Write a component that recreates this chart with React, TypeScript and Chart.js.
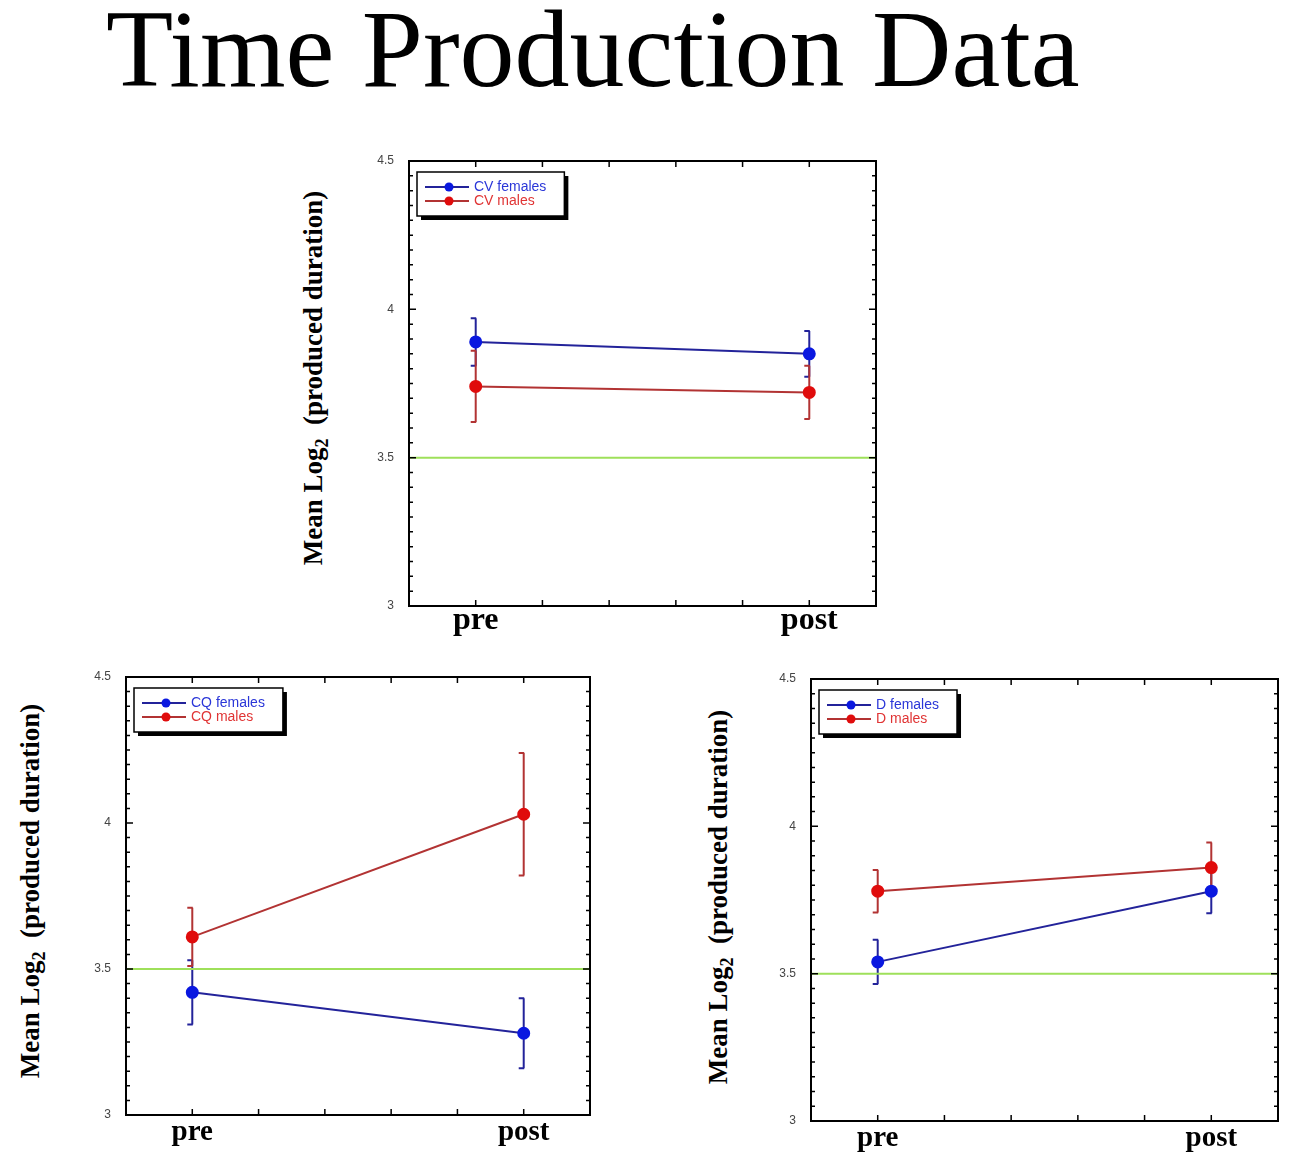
import React, { useEffect, useRef } from "react";
import { Chart, registerables } from "chart.js";

Chart.register(...registerables);

// ---------------- data ----------------
const xCategories = ["pre", "post"];

const cvLabels = ["CV females", "CV males"];
const cvFemales = [3.89, 3.85];
const cvFemalesErr = [0.08, 0.077];
const cvMales = [3.74, 3.72];
const cvMalesErr = [0.12, 0.09];

const cqLabels = ["CQ females", "CQ males"];
const cqFemales = [3.42, 3.28];
const cqFemalesErr = [0.11, 0.12];
const cqMales = [3.61, 4.03];
const cqMalesErr = [0.1, 0.21];

const dLabels = ["D females", "D males"];
const dFemales = [3.54, 3.78];
const dFemalesErr = [0.075, 0.075];
const dMales = [3.78, 3.86];
const dMalesErr = [0.072, 0.085];

const referenceLevel = 3.5;
const yMin = 3;
const yMax = 4.5;
const yStep = 0.5;
const yMinorStep = 0.05;
const xMin = -0.2;
const xMax = 1.2;
const xMinorStep = 0.2;

const titleText = "Time Production Data";

// ---------------- styles ----------------
const LINE_BLUE = "#23239a";
const DOT_BLUE = "#0a18e0";
const TEXT_BLUE = "#2a36d8";
const LINE_RED = "#b23333";
const DOT_RED = "#e00c0c";
const TEXT_RED = "#e03434";
const GREEN = "#9ee05a";

const PAD_TOP = 12;
const PAD_RIGHT = 12;
const Y_AXIS_W = 60;
const X_AXIS_H = 45;

const errorBarPlugin = {
  id: "errorBars",
  beforeDatasetsDraw(chart: any) {
    const { ctx } = chart;
    const xs = chart.scales.x;
    const ys = chart.scales.y;
    chart.data.datasets.forEach((ds: any) => {
      if (!ds.errors) return;
      ctx.save();
      ctx.strokeStyle = ds.borderColor;
      ctx.lineWidth = 2;
      ds.data.forEach((p: any, j: number) => {
        const e = ds.errors[j];
        const px = xs.getPixelForValue(p.x);
        const top = ys.getPixelForValue(p.y + e);
        const bot = ys.getPixelForValue(p.y - e);
        ctx.beginPath();
        ctx.moveTo(px, top);
        ctx.lineTo(px, bot);
        ctx.moveTo(px - 5, top);
        ctx.lineTo(px + 0.5, top);
        ctx.moveTo(px - 5, bot);
        ctx.lineTo(px + 0.5, bot);
        ctx.stroke();
      });
      ctx.restore();
    });
  },
};

const framePlugin = {
  id: "frame",
  afterDraw(chart: any) {
    const { ctx, chartArea: a } = chart;
    const xs = chart.scales.x;
    const ys = chart.scales.y;
    ctx.save();
    ctx.strokeStyle = "#000";
    ctx.lineWidth = 1.5;
    ctx.beginPath();
    const nY = Math.round((yMax - yMin) / yMinorStep);
    const perMajor = Math.round(yStep / yMinorStep);
    for (let k = 1; k < nY; k++) {
      const py = ys.getPixelForValue(yMin + k * yMinorStep);
      const len = k % perMajor === 0 ? 7 : 4;
      ctx.moveTo(a.left, py);
      ctx.lineTo(a.left + len, py);
      ctx.moveTo(a.right, py);
      ctx.lineTo(a.right - len, py);
    }
    const nX = Math.round((xMax - xMin) / xMinorStep);
    for (let k = 1; k < nX; k++) {
      const px = xs.getPixelForValue(xMin + k * xMinorStep);
      ctx.moveTo(px, a.bottom);
      ctx.lineTo(px, a.bottom - 6);
      ctx.moveTo(px, a.top);
      ctx.lineTo(px, a.top + 6);
    }
    ctx.stroke();
    ctx.lineWidth = 2;
    ctx.strokeRect(a.left, a.top, a.right - a.left, a.bottom - a.top);

    // legend
    const items = chart.data.datasets.filter((d: any) => d.inLegend);
    const bx = a.left + 8;
    const by = a.top + 11;
    ctx.font = '14px "Liberation Sans", Arial, sans-serif';
    let maxW = 0;
    items.forEach((d: any) => {
      maxW = Math.max(maxW, ctx.measureText(d.label).width);
    });
    const textX = 57;
    const bw = textX + maxW + 18;
    const bh = 44;
    ctx.fillStyle = "#000";
    ctx.fillRect(bx + 4, by + 4, bw, bh);
    ctx.fillStyle = "#fff";
    ctx.fillRect(bx, by, bw, bh);
    ctx.lineWidth = 1.5;
    ctx.strokeStyle = "#000";
    ctx.strokeRect(bx, by, bw, bh);
    items.forEach((d: any, i: number) => {
      const ry = by + 15 + i * 14;
      ctx.strokeStyle = d.borderColor;
      ctx.lineWidth = 2;
      ctx.beginPath();
      ctx.moveTo(bx + 8, ry);
      ctx.lineTo(bx + 52, ry);
      ctx.stroke();
      ctx.fillStyle = d.pointBackgroundColor;
      ctx.beginPath();
      ctx.arc(bx + 32, ry, 4.5, 0, Math.PI * 2);
      ctx.fill();
      ctx.fillStyle = d.legendColor;
      ctx.textBaseline = "middle";
      ctx.textAlign = "left";
      ctx.fillText(d.label, bx + textX, ry);
    });
    ctx.restore();
  },
};

type Spec = {
  labels: string[];
  females: number[];
  femalesErr: number[];
  males: number[];
  malesErr: number[];
  xFont: number;
  xPad: number;
};

function makeConfig(spec: Spec): any {
  const pts = (vals: number[]) => xCategories.map((_, i) => ({ x: i, y: vals[i] }));
  return {
    type: "line",
    data: {
      datasets: [
        {
          label: spec.labels[0],
          data: pts(spec.females),
          errors: spec.femalesErr,
          inLegend: true,
          legendColor: TEXT_BLUE,
          borderColor: LINE_BLUE,
          backgroundColor: DOT_BLUE,
          pointBackgroundColor: DOT_BLUE,
          pointBorderColor: DOT_BLUE,
          pointRadius: 5.5,
          borderWidth: 2,
        },
        {
          label: spec.labels[1],
          data: pts(spec.males),
          errors: spec.malesErr,
          inLegend: true,
          legendColor: TEXT_RED,
          borderColor: LINE_RED,
          backgroundColor: DOT_RED,
          pointBackgroundColor: DOT_RED,
          pointBorderColor: DOT_RED,
          pointRadius: 5.5,
          borderWidth: 2,
        },
        {
          label: "reference",
          data: [
            { x: xMin, y: referenceLevel },
            { x: xMax, y: referenceLevel },
          ],
          borderColor: GREEN,
          borderWidth: 2,
          pointRadius: 0,
        },
      ],
    },
    options: {
      responsive: false,
      animation: false,
      layout: { padding: { top: PAD_TOP, right: PAD_RIGHT, left: 0, bottom: 0 } },
      plugins: { legend: { display: false }, tooltip: { enabled: false } },
      scales: {
        x: {
          type: "linear",
          min: xMin,
          max: xMax,
          grid: { display: false, drawTicks: false },
          border: { display: false },
          afterBuildTicks: (s: any) => {
            s.ticks = xCategories.map((_, i) => ({ value: i }));
          },
          afterFit: (s: any) => {
            s.height = X_AXIS_H;
            s.paddingLeft = 0;
            s.paddingRight = 0;
            s.paddingTop = 0;
            s.paddingBottom = 0;
          },
          ticks: {
            autoSkip: false,
            maxRotation: 0,
            padding: spec.xPad,
            color: "#000",
            font: { family: '"Liberation Serif", "Times New Roman", serif', size: spec.xFont, weight: "bold", lineHeight: 1 },
            callback: (v: any) => xCategories[Math.round(v)] ?? "",
          },
        },
        y: {
          type: "linear",
          min: yMin,
          max: yMax,
          grid: { display: false, drawTicks: false },
          border: { display: false },
          afterFit: (s: any) => {
            s.width = Y_AXIS_W;
            s.paddingLeft = 0;
            s.paddingRight = 0;
            s.paddingTop = 0;
            s.paddingBottom = 0;
          },
          ticks: {
            stepSize: yStep,
            padding: 15,
            color: "#444",
            font: { family: '"Liberation Sans", Arial, sans-serif', size: 12 },
            callback: (v: any) => String(v),
          },
        },
      },
    },
    plugins: [errorBarPlugin, framePlugin],
  };
}

function Panel(props: { spec: Spec; L: number; T: number; R: number; B: number }) {
  const ref = useRef<HTMLCanvasElement | null>(null);
  const { spec, L, T, R, B } = props;
  const w = R - L + Y_AXIS_W + PAD_RIGHT;
  const h = B - T + PAD_TOP + X_AXIS_H;
  useEffect(() => {
    if (!ref.current) return;
    const chart = new Chart(ref.current, makeConfig(spec));
    return () => chart.destroy();
  }, []);
  return (
    <canvas
      ref={ref}
      width={w}
      height={h}
      style={{ position: "absolute", left: L - Y_AXIS_W, top: T - PAD_TOP, width: w, height: h }}
    />
  );
}

function YTitle(props: { cx: number; cy: number }) {
  return (
    <div
      style={{
        position: "absolute",
        left: props.cx,
        top: props.cy,
        transform: "translate(-50%, -50%) rotate(-90deg)",
        whiteSpace: "nowrap",
        fontFamily: '"Liberation Serif", "Times New Roman", serif',
        fontWeight: "bold",
        fontSize: 27,
        lineHeight: "30px",
        color: "#000",
      }}
    >
      Mean Log<sub style={{ fontSize: 18, lineHeight: 0 }}>2</sub>
      {"\u00a0\u00a0"}(produced duration)
    </div>
  );
}

export default function App() {
  const cv: Spec = { labels: cvLabels, females: cvFemales, femalesErr: cvFemalesErr, males: cvMales, malesErr: cvMalesErr, xFont: 32, xPad: -1 };
  const cq: Spec = { labels: cqLabels, females: cqFemales, femalesErr: cqFemalesErr, males: cqMales, malesErr: cqMalesErr, xFont: 29, xPad: 3 };
  const d: Spec = { labels: dLabels, females: dFemales, femalesErr: dFemalesErr, males: dMales, malesErr: dMalesErr, xFont: 29, xPad: 3 };
  return (
    <div style={{ position: "absolute", left: 0, top: 0, width: 1300, height: 1164, background: "#fff", overflow: "hidden" }}>
      <div
        style={{
          position: "absolute",
          left: 106,
          top: -6,
          fontFamily: '"Liberation Serif", "Times New Roman", serif',
          fontSize: 110,
          lineHeight: "110px",
          whiteSpace: "nowrap",
          color: "#000",
        }}
      >
        {titleText}
      </div>
      <YTitle cx={313} cy={378} />
      <YTitle cx={30} cy={891} />
      <YTitle cx={718} cy={897} />
      <Panel spec={cv} L={409} T={161} R={876} B={606} />
      <Panel spec={cq} L={126} T={677} R={590} B={1115} />
      <Panel spec={d} L={811} T={679} R={1278} B={1121} />
    </div>
  );
}
